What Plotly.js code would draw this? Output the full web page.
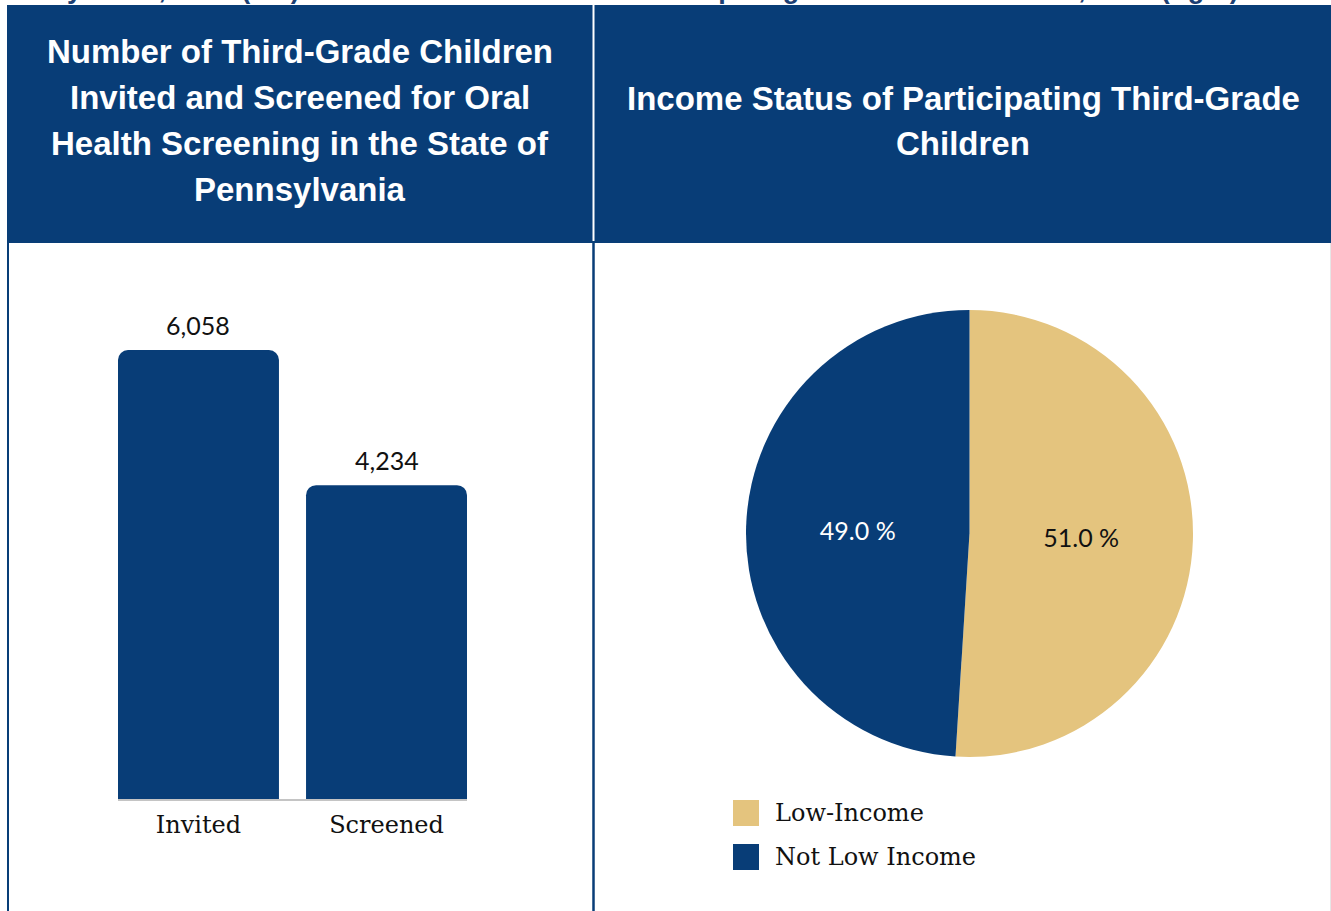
<!DOCTYPE html>
<html>
<head>
<meta charset="utf-8">
<script src="https://cdn.plot.ly/plotly-3.0.1.min.js"></script>
<style>
  html, body { margin: 0; padding: 0; background: #ffffff; }
  #chart { width: 1331px; height: 911px; }
</style>
</head>
<body>
<div id="chart"></div>
<script>
// ---- data ----
const barCategories = ['Invited', 'Screened'];
const barValues = [6058, 4234];
const pieLabels = ['Low-Income', 'Not Low Income'];
const pieValues = [51.0, 49.0];
const leftTitleLines = ['Number of Third-Grade Children', 'Invited and Screened for Oral', 'Health Screening in the State of', 'Pennsylvania'];
const rightTitleLines = ['Income Status of Participating Third-Grade', 'Children'];
const captionTail = 'Pennsylvania, 2019 (left) and the Income Status of Participating Third-Grade Children, 2019 (right)';

// ---- styling ----
const W = 1331, H = 911;
const NAVY = '#083d77';
const GOLD = '#e4c47e';
const pieColors = [GOLD, NAVY];
const pieTextColors = ['#111111', '#ffffff'];
const px = x => x / W;
const py = y => 1 - y / H;

const barTrace = {
  type: 'bar',
  x: barCategories,
  y: barValues,
  marker: { color: NAVY },
  hoverinfo: 'skip',
  xaxis: 'x', yaxis: 'y',
  showlegend: false
};

const pieTrace = {
  type: 'pie',
  labels: pieLabels,
  values: pieValues,
  text: pieValues.map(v => v.toFixed(1) + ' %'),
  textinfo: 'text',
  textposition: 'inside',
  insidetextorientation: 'horizontal',
  textfont: { family: 'Lato, sans-serif', size: 25, color: pieTextColors },
  marker: { colors: pieColors, line: { width: 0 } },
  sort: false,
  direction: 'clockwise',
  rotation: 0,
  hoverinfo: 'skip',
  showlegend: false,
  domain: { x: [px(746), px(1193)], y: [py(757), py(310)] }
};

const shapes = [
  // header band
  { type: 'rect', xref: 'paper', yref: 'paper', x0: px(7), x1: px(1331), y0: py(243), y1: py(5), fillcolor: NAVY, line: { width: 0 }, layer: 'below' },
  // white divider inside header
  { type: 'line', xref: 'paper', yref: 'paper', x0: px(593.5), x1: px(593.5), y0: py(241), y1: py(5), line: { color: '#ffffff', width: 2 } },
  // navy divider below header
  { type: 'line', xref: 'paper', yref: 'paper', x0: px(593.5), x1: px(593.5), y0: py(911), y1: py(243), line: { color: NAVY, width: 2.5 } },
  // left border
  { type: 'line', xref: 'paper', yref: 'paper', x0: px(8), x1: px(8), y0: py(911), y1: py(243), line: { color: NAVY, width: 2 } },
  // right faint border
  { type: 'line', xref: 'paper', yref: 'paper', x0: px(1330.5), x1: px(1330.5), y0: py(911), y1: py(243), line: { color: '#e6e6e6', width: 1 } }
];

const annotations = [];
// caption line, cut off at the top edge as in the reference
annotations.push({ xref: 'paper', yref: 'paper', x: px(612), y: py(6), xanchor: 'center', yanchor: 'bottom', showarrow: false,
  text: captionTail, font: { family: 'Liberation Sans, Arial, sans-serif', size: 27, color: '#1c3f73', weight: 'bold' } });

leftTitleLines.forEach((t, i) => {
  annotations.push({ xref: 'paper', yref: 'paper', x: px(300), y: py(52 + i * 45.7), xanchor: 'center', yanchor: 'middle', showarrow: false,
    text: '<b>' + t + '</b>', font: { family: 'Liberation Sans, Arial, sans-serif', size: 33, color: '#ffffff' } });
});
rightTitleLines.forEach((t, i) => {
  annotations.push({ xref: 'paper', yref: 'paper', x: px(963), y: py(98 + i * 45.7), xanchor: 'center', yanchor: 'middle', showarrow: false,
    text: '<b>' + t + '</b>', font: { family: 'Liberation Sans, Arial, sans-serif', size: 33, color: '#ffffff' } });
});

// bar value labels
barCategories.forEach((c, i) => {
  annotations.push({ xref: 'x', yref: 'y', x: c, y: barValues[i], xanchor: 'center', yanchor: 'bottom', yshift: 8, showarrow: false,
    text: barValues[i].toLocaleString('en-US'), font: { family: 'Lato, sans-serif', size: 25, color: '#111111' } });
});

// pie legend (built from labels and colours)
pieLabels.forEach((l, i) => {
  const cy = 813 + i * 44;
  shapes.push({ type: 'rect', xref: 'paper', yref: 'paper', x0: px(733), x1: px(759), y0: py(cy + 13), y1: py(cy - 13), fillcolor: pieColors[i], line: { width: 0 } });
  annotations.push({ xref: 'paper', yref: 'paper', x: px(773), y: py(cy), xanchor: 'left', yanchor: 'middle', showarrow: false,
    text: l, font: { family: 'DejaVu Serif, serif', size: 24, color: '#111111' } });
});

const layout = {
  width: W, height: H,
  autosize: false,
  margin: { l: 0, r: 0, t: 0, b: 0, pad: 0 },
  paper_bgcolor: '#ffffff',
  plot_bgcolor: 'rgba(0,0,0,0)',
  bargap: 0.144,
  barcornerradius: 10,
  xaxis: {
    domain: [px(118), px(467)],
    range: [-0.428, 1.428],
    type: 'category',
    showgrid: false, zeroline: false,
    showline: true, linecolor: '#c4c4c4', linewidth: 2,
    ticks: '', tickfont: { family: 'DejaVu Serif, serif', size: 24, color: '#111111' },
    ticklabelstandoff: 3,
    fixedrange: true
  },
  yaxis: {
    domain: [py(799), py(295)],
    range: [0, 6800],
    showgrid: false, zeroline: false, showline: false, showticklabels: false,
    fixedrange: true
  },
  shapes: shapes,
  annotations: annotations,
  showlegend: false
};

Plotly.newPlot('chart', [barTrace, pieTrace], layout, { displayModeBar: false, staticPlot: true });
</script>
</body>
</html>
